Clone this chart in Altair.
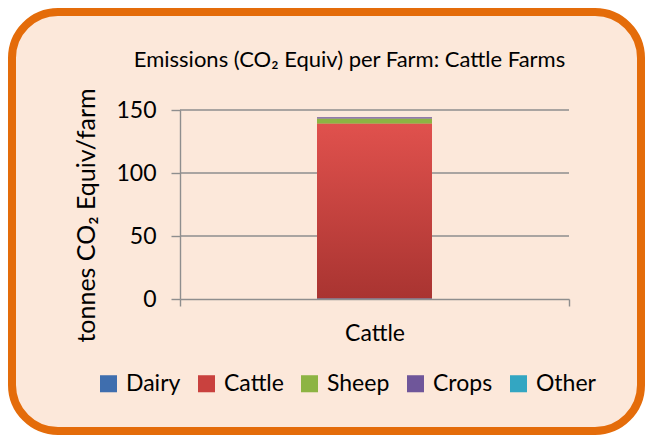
import altair as alt
import pandas as pd

# ---- data ----
farm_type = "Cattle"
series = ["Dairy", "Cattle", "Sheep", "Crops", "Other"]
values = [0.6, 138.5, 4.2, 0.9, 0.1]
colors = ["#3F6EAE", "#C9413E", "#8DB443", "#6F569A", "#33A6C2"]
grid_ticks = [50, 100, 150]
y_ticks = [0, 50, 100, 150]

df = pd.DataFrame({
    "farm": [farm_type] * len(series),
    "series": series,
    "value": values,
    "order": list(range(len(series))),
})

W, H = 389, 189
FONT = "Lato"
Y_TITLE = "tonnes CO₂ Equiv/farm"

y_axis = alt.Axis(values=y_ticks, grid=False, tickSize=9,
                  labelFontSize=23, labelColor="black", labelPadding=15,
                  domainColor="#8E8E8E", tickColor="#8E8E8E",
                  domainWidth=1.4, tickWidth=1.4,
                  titleFontSize=25, titleFontWeight="normal",
                  titleColor="black", titleAngle=-90,
                  titleX=-86, titleY=105, titleAlign="center",
                  titleBaseline="alphabetic", zindex=1)
y_scale = alt.Scale(domain=[0, 150], nice=False)

frame = alt.Chart(alt.Data(values=[{}])).mark_rect(
    fill="#FCE8DA", stroke="#E46C0A", strokeWidth=8, cornerRadius=46
).encode(
    x=alt.value(-168), x2=alt.value(461), y=alt.value(-98), y2=alt.value(321)
)

grid = alt.Chart(pd.DataFrame({"v": grid_ticks})).mark_rule(
    color="#8E8E8E", strokeWidth=1.4
).encode(y=alt.Y("v:Q", title=Y_TITLE, scale=y_scale, axis=y_axis))

base = alt.Chart(df).transform_stack(
    stack="value", as_=["y0", "y1"], groupby=["farm"], sort=[alt.SortField("order")]
)

bars = base.mark_bar(size=115).encode(
    x=alt.X("farm:N", title=None,
            scale=alt.Scale(paddingInner=0, paddingOuter=0),
            axis=alt.Axis(labelAngle=0, labelFontSize=23, labelColor="black",
                          labelPadding=16, tickSize=7, tickBand="extent",
                          domainColor="#8E8E8E", tickColor="#8E8E8E",
                          domainWidth=1.4, tickWidth=1.4, grid=False, zindex=1)),
    y=alt.Y("y0:Q", title=Y_TITLE, scale=y_scale, axis=y_axis),
    y2="y1:Q",
    color=alt.Color("series:N", scale=alt.Scale(domain=series, range=colors),
                    legend=alt.Legend(title=None, orient="none", direction="horizontal",
                                      legendX=-83, legendY=262,
                                      symbolType="square", symbolSize=290,
                                      symbolStrokeWidth=0, symbolOpacity=1,
                                      labelFontSize=23, labelColor="black",
                                      labelOffset=6, columnPadding=14)),
)

cattle_shade = base.transform_filter(alt.datum.series == "Cattle").mark_bar(
    size=115,
    color=alt.LinearGradient(
        gradient="linear", x1=0, x2=0, y1=0, y2=1,
        stops=[alt.GradientStop(offset=0, color="#E0514D"),
               alt.GradientStop(offset=1, color="#A93431")],
    ),
).encode(x=alt.X("farm:N"), y=alt.Y("y0:Q", title=Y_TITLE, scale=y_scale, axis=y_axis),
         y2="y1:Q")

chart = alt.layer(frame, grid, bars, cattle_shade).properties(
    width=W, height=H,
    autosize=alt.AutoSizeParams(type="none"),
    padding={"left": 172, "top": 102, "right": 76, "bottom": 136},
    title=alt.TitleParams("Emissions (CO₂ Equiv) per Farm: Cattle Farms",
                          fontSize=22, fontWeight="normal", color="black",
                          anchor="middle", dx=-25, offset=-64, font=FONT),
).configure(font=FONT, background="white").configure_view(stroke=None)

chart.save("out.html", embed_options={"renderer": "svg", "actions": False})
